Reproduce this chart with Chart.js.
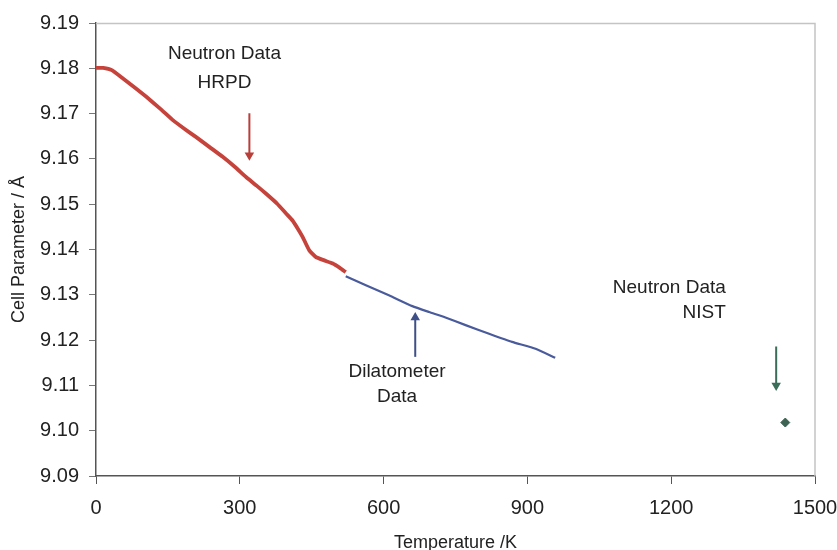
<!DOCTYPE html>
<html>
<head>
<meta charset="utf-8">
<script src="https://cdn.jsdelivr.net/npm/chart.js@4"></script>
<style>
  html, body { margin: 0; padding: 0; background: #fff; }
  #wrap { width: 837px; height: 550px; }
</style>
</head>
<body>
<div id="wrap"><canvas id="cell"></canvas></div>
<script>
// HRPD neutron data (red)
var hrpdT = [0, 15, 33, 57, 80, 105, 135, 161, 185, 209, 237, 265, 290, 313, 335, 355, 378, 397, 410, 421, 431, 445, 459, 476, 494, 508, 521];
var hrpdA = [9.1801, 9.1801, 9.1796, 9.1777, 9.1758, 9.1737, 9.1710, 9.1685, 9.1666, 9.1648, 9.1626, 9.1604, 9.1582, 9.1560, 9.1541, 9.1523, 9.1501, 9.1479, 9.1464, 9.1446, 9.1428, 9.1398, 9.1383, 9.1376, 9.1369, 9.1360, 9.1350];

// dilatometer data (blue)
var dilT = [521, 563, 611, 660, 695, 729, 771, 820, 868, 917, 958];
var dilA = [9.1341, 9.1321, 9.1299, 9.1275, 9.1262, 9.1250, 9.1233, 9.1214, 9.1196, 9.1181, 9.1161];

// NIST neutron point
var nistT = [1438];
var nistA = [9.1018];

// arrows: [T, from, to]  (head at "to")
var arrowHrpd = [320, 9.1701, 9.1608];
var arrowDil = [666, 9.1163, 9.1250];
var arrowNist = [1419, 9.1186, 9.1100];

// axis ticks
var xTicks = [0, 300, 600, 900, 1200, 1500];
var yMin = 9.09, yMax = 9.19, yStep = 0.01;

// text notes: [text, T, value, align]
var notes = [
  ["Neutron Data", 268, 9.1833, "center"],
  ["HRPD", 268, 9.1769, "center"],
  ["Dilatometer", 628, 9.1129, "center"],
  ["Data", 628, 9.1074, "center"],
  ["Neutron Data", 1314, 9.1316, "right"],
  ["NIST", 1314, 9.1261, "right"]
];

function pts(xs, ys) {
  var out = [];
  for (var i = 0; i < xs.length; i++) out.push({x: xs[i], y: ys[i]});
  return out;
}

function arrowSet(a, color) {
  return {
    data: [{x: a[0], y: a[1]}, {x: a[0], y: a[2]}],
    borderColor: color,
    backgroundColor: color,
    borderWidth: 2,
    pointStyle: "triangle",
    pointRadius: [0, 3.5],
    pointRotation: a[2] < a[1] ? 180 : 0,
    showLine: true
  };
}

//light frame on top and right, notes on top
var extras = {
  id: "extras",
  beforeDatasetsDraw: function(chart){
    var c = chart.ctx, a = chart.chartArea;
    c.save();
    c.strokeStyle = "#c4c4c4";
    c.lineWidth = 1.5;
    c.beginPath();
    c.moveTo(a.left, a.top + 0.5);
    c.lineTo(a.right, a.top + 0.5);
    c.lineTo(a.right, a.bottom);
    c.stroke();
    c.restore();
  },
  afterDraw: function(chart){
    var c = chart.ctx, xs = chart.scales.x, ys = chart.scales.y;
    c.save();
    c.font = "19px 'Liberation Sans', Arial, sans-serif";
    c.fillStyle = "#222";
    c.textBaseline = "middle";
    for (var i = 0; i < notes.length; i++) {
      c.textAlign = notes[i][3];
      c.fillText(notes[i][0], xs.getPixelForValue(notes[i][1]), ys.getPixelForValue(notes[i][2]));
    }
    c.restore();
  }
};

var tickFont = {family: "'Liberation Sans', Arial, sans-serif", size: 20};
var titleFont = {family: "'Liberation Sans', Arial, sans-serif", size: 18};

new Chart(document.getElementById("cell"), {
  type: "scatter",
  data: {
    datasets: [
      {
        data: pts(hrpdT, hrpdA),
        showLine: true,
        borderColor: "#c6433c",
        borderWidth: 3.8,
        pointRadius: 0,
        tension: 0.15
      },
      {
        data: pts(dilT, dilA),
        showLine: true,
        borderColor: "#4a5b9c",
        borderWidth: 2.2,
        pointRadius: 0,
        tension: 0.15
      },
      {
        data: pts(nistT, nistA),
        pointStyle: "rectRot",
        pointRadius: 4.5,
        backgroundColor: "#3d6354",
        borderColor: "#3d6354"
      },
      arrowSet(arrowHrpd, "#b9403a"),
      arrowSet(arrowDil, "#3f5088"),
      arrowSet(arrowNist, "#3b6e58")
    ]
  },
  options: {
    responsive: true,
    maintainAspectRatio: false,
    animation: false,
    layout: {padding: {top: 23, right: 22, left: 4, bottom: 0}},
    plugins: {
      legend: {display: false},
      tooltip: {enabled: false}
    },
    scales: {
      x: {
        type: "linear",
        min: 0,
        max: 1500,
        afterBuildTicks: function(scale){
          scale.ticks = xTicks.map(function(v){ return {value: v}; });
        },
        afterFit: function(scale){
          scale.height = 74;
          scale.paddingLeft = 0;
          scale.paddingRight = 0;
        },
        grid: {drawOnChartArea: false, tickLength: 8, color: "#555"},
        border: {color: "#555", width: 1.5},
        ticks: {
          font: tickFont,
          color: "#222",
          padding: 12,
          maxRotation: 0,
          callback: function(v){ return String(v); }
        },
        title: {display: true, text: "Temperature /K", font: titleFont, color: "#222", padding: {top: 4, bottom: -4}}
      },
      y: {
        min: yMin,
        max: yMax,
        afterFit: function(scale){ scale.width = 92; },
        grid: {drawOnChartArea: false, tickLength: 7, color: "#777"},
        border: {color: "#555", width: 1.5},
        ticks: {
          stepSize: yStep,
          font: tickFont,
          color: "#222",
          padding: 10,
          callback: function(v){ return Number(v).toFixed(2); }
        },
        title: {display: true, text: "Cell Parameter / Å", font: titleFont, color: "#222", padding: {bottom: 2}}
      }
    }
  },
  plugins: [extras]
});
</script>
</body>
</html>
